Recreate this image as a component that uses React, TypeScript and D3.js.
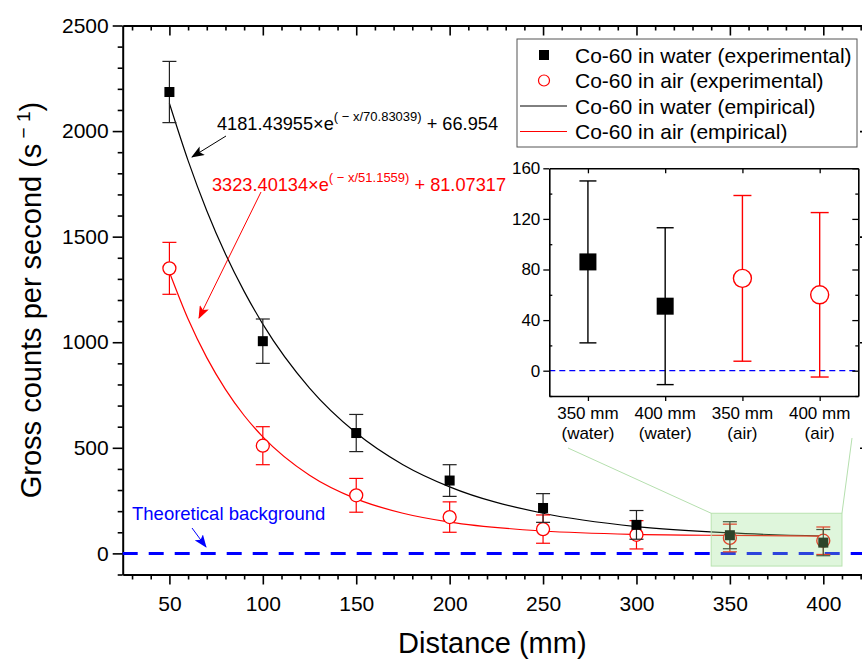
import React, { useEffect, useRef } from "react";
import * as d3 from "d3";

const FONT = "'Liberation Sans', Arial, Helvetica, sans-serif";

// measured points (mm, counts per second)
const distances = [50, 100, 150, 200, 250, 300, 350, 400];
const waterCounts = [2185, 1005, 570, 345, 215, 135, 86, 51];
const waterErr = [145, 105, 88, 75, 68, 68, 64, 62];
const airCounts = [1350, 510, 275, 172, 115, 88, 73, 60];
const airErr = [123, 90, 80, 72, 67, 67, 65.5, 65];

// empirical fit curves
const fitX = [50, 60, 70, 80, 90, 100, 125, 150, 175, 200, 250, 300, 350, 400];
const waterFit = [2131, 1860, 1623, 1418, 1241, 1086, 783, 570, 420, 315, 190, 127, 97, 82];
const airFit = [1332, 1110, 927, 777, 653, 552, 370, 258, 190, 148, 106, 90, 85, 82];

const xTicks = [50, 100, 150, 200, 250, 300, 350, 400];
const yTicks = [0, 500, 1000, 1500, 2000, 2500];
const insetYTicks = [0, 40, 80, 120, 160];
const insetCats = ["350 mm", "400 mm", "350 mm", "400 mm"];
const insetMedia = ["(water)", "(water)", "(air)", "(air)"];

const legendItems = [
  "Co-60 in water (experimental)",
  "Co-60 in air (experimental)",
  "Co-60 in water (empirical)",
  "Co-60 in air (empirical)",
];

export default function App() {
  const ref = useRef<SVGSVGElement>(null);

  useEffect(() => {
    const svg = d3.select(ref.current);
    svg.selectAll("*").remove();

    const left = 122.7, right = 870, top = 25.5, bottom = 574.5;
    const x = d3.scaleLinear().domain([25, 425]).range([left, right]);
    const y = d3.scaleLinear().domain([-100, 2500]).range([bottom, top]);

    const defs = svg.append("defs");
    [["arrowBlack", "#000"], ["arrowRed", "#ff0000"], ["arrowBlue", "#0000ff"]].forEach(([id, c]) => {
      defs.append("marker")
        .attr("id", id)
        .attr("markerUnits", "userSpaceOnUse")
        .attr("markerWidth", 14).attr("markerHeight", 10)
        .attr("refX", 12).attr("refY", 5)
        .attr("orient", "auto")
        .append("path").attr("d", "M0,0 L13,5 L0,10 L3,5 Z").attr("fill", c);
    });

    const styleAxis = (g, sw = 1.6) => {
      g.selectAll(".domain").attr("stroke", "#000").attr("stroke-width", 2);
      g.selectAll(".tick line").attr("stroke", "#000").attr("stroke-width", sw);
      g.selectAll("text").attr("font-family", FONT).attr("fill", "#000");
    };

    // main axes
    const minorX = d3.range(30, 421, 10).filter(d => d % 50 !== 0);
    const minorY = d3.range(-100, 2501, 100).filter(d => d % 500 !== 0);

    const gb = svg.append("g").attr("transform", `translate(0,${bottom})`);
    gb.call(d3.axisBottom(x).tickValues(xTicks).tickSize(10).tickSizeOuter(0).tickPadding(12).tickFormat(d3.format("d")));
    gb.append("g").call(d3.axisBottom(x).tickValues(minorX).tickSize(5).tickFormat(() => "")).select(".domain").remove();
    styleAxis(gb);
    gb.selectAll("text").attr("font-size", 21);

    const gt = svg.append("g").attr("transform", `translate(0,${top})`);
    gt.call(d3.axisBottom(x).tickValues(xTicks).tickSize(10).tickSizeOuter(0).tickFormat(() => ""));
    gt.append("g").call(d3.axisBottom(x).tickValues(minorX).tickSize(5).tickFormat(() => "")).select(".domain").remove();
    styleAxis(gt);

    const gl = svg.append("g").attr("transform", `translate(${left},0)`);
    gl.call(d3.axisLeft(y).tickValues(yTicks).tickSize(10).tickSizeOuter(0).tickPadding(4).tickFormat(d3.format("d")));
    gl.append("g").call(d3.axisLeft(y).tickValues(minorY).tickSize(5).tickFormat(() => "")).select(".domain").remove();
    styleAxis(gl);
    gl.selectAll("text").attr("font-size", 21);

    const gr = svg.append("g").attr("transform", `translate(${right},0)`);
    gr.call(d3.axisLeft(y).tickValues(yTicks).tickSize(10).tickSizeOuter(0).tickFormat(() => ""));
    gr.append("g").call(d3.axisLeft(y).tickValues(minorY).tickSize(5).tickFormat(() => "")).select(".domain").remove();
    styleAxis(gr);

    // axis titles
    svg.append("text")
      .attr("x", (left + right - 8) / 2).attr("y", 653)
      .attr("text-anchor", "middle").attr("font-family", FONT).attr("font-size", 29)
      .text("Distance (mm)");
    const yt = svg.append("text")
      .attr("transform", `translate(41,${(top + bottom) / 2}) rotate(-90)`)
      .attr("text-anchor", "middle").attr("font-family", FONT).attr("font-size", 29);
    yt.append("tspan").text("Gross counts per second (s");
    yt.append("tspan").attr("dy", -11).attr("font-size", 19).text(" \u2212 1");
    yt.append("tspan").attr("dy", 11).text(")");

    // theoretical background
    svg.append("line")
      .attr("x1", left).attr("x2", right).attr("y1", y(0)).attr("y2", y(0))
      .attr("stroke", "#0000ff").attr("stroke-width", 3).attr("stroke-dasharray", "15,11");

    // fitted curves
    const line = d3.line<number>().x((d, i) => x(fitX[i])).curve(d3.curveMonotoneX);
    svg.append("path").attr("d", line.y(d => y(d))(waterFit)).attr("fill", "none").attr("stroke", "#000").attr("stroke-width", 1.2);
    svg.append("path").attr("d", line.y(d => y(d))(airFit)).attr("fill", "none").attr("stroke", "#ff0000").attr("stroke-width", 1.2);

    const errBars = (g, xs, vals, errs, color, cap, sx, sy, sw) => {
      xs.forEach((xv, i) => {
        const cx = sx(xv), lo = sy(vals[i] - errs[i]), hi = sy(vals[i] + errs[i]);
        g.append("line").attr("x1", cx).attr("x2", cx).attr("y1", lo).attr("y2", hi).attr("stroke", color).attr("stroke-width", sw);
        [lo, hi].forEach(yy => g.append("line").attr("x1", cx - cap / 2).attr("x2", cx + cap / 2).attr("y1", yy).attr("y2", yy).attr("stroke", color).attr("stroke-width", sw));
      });
    };

    const pts = svg.append("g");
    errBars(pts, distances, airCounts, airErr, "#ff0000", 14, x, y, 1.2);
    pts.selectAll("circle.air").data(distances).join("circle")
      .attr("cx", d => x(d)).attr("cy", (d, i) => y(airCounts[i])).attr("r", 6.5)
      .attr("fill", "#fff").attr("stroke", "#ff0000").attr("stroke-width", 1.3);
    errBars(pts, distances, waterCounts, waterErr, "#222", 14, x, y, 1.2);
    pts.selectAll("rect.water").data(distances).join("rect")
      .attr("x", d => x(d) - 5).attr("y", (d, i) => y(waterCounts[i]) - 5)
      .attr("width", 10).attr("height", 10).attr("fill", "#000");

    // zoom region highlight
    const zx0 = x(340), zx1 = x(410), zy0 = y(190), zy1 = y(-60);
    svg.append("rect").attr("x", zx0).attr("y", zy0).attr("width", zx1 - zx0).attr("height", zy1 - zy0)
      .attr("fill", "rgba(150,225,140,0.3)").attr("stroke", "#b9e3b0").attr("stroke-width", 1);
    svg.append("line").attr("x1", 568).attr("y1", 448).attr("x2", zx0).attr("y2", zy0).attr("stroke", "#b5dfae").attr("stroke-width", 1);
    svg.append("line").attr("x1", 852).attr("y1", 438).attr("x2", zx1).attr("y2", zy0).attr("stroke", "#b5dfae").attr("stroke-width", 1);

    // annotations
    const annot = (tx, ty, color, base, sup, tail) => {
      const t = svg.append("text").attr("x", tx).attr("y", ty).attr("font-family", FONT).attr("font-size", 18.2).attr("fill", color);
      t.append("tspan").text(base);
      t.append("tspan").attr("dy", -9).attr("font-size", 13).text(sup);
      t.append("tspan").attr("dy", 9).text(tail);
    };
    annot(217, 130, "#000", "4181.43955\u00d7e", "( \u2212 x/70.83039)", " + 66.954");
    annot(212, 191, "#ff0000", "3323.40134\u00d7e", "( \u2212 x/51.1559)", " + 81.07317");
    svg.append("line").attr("x1", 226).attr("y1", 136).attr("x2", 192).attr("y2", 157)
      .attr("stroke", "#000").attr("stroke-width", 1).attr("marker-end", "url(#arrowBlack)");
    svg.append("line").attr("x1", 261).attr("y1", 192).attr("x2", 199).attr("y2", 318)
      .attr("stroke", "#ff0000").attr("stroke-width", 1).attr("marker-end", "url(#arrowRed)");
    svg.append("text").attr("x", 132).attr("y", 520).attr("font-family", FONT).attr("font-size", 18.5)
      .attr("fill", "#0000ff").text("Theoretical background");
    svg.append("line").attr("x1", 192).attr("y1", 528).attr("x2", 206).attr("y2", 547)
      .attr("stroke", "#0000ff").attr("stroke-width", 1).attr("marker-end", "url(#arrowBlue)");

    // legend
    const lg = svg.append("g");
    lg.append("rect").attr("x", 517).attr("y", 39).attr("width", 340).attr("height", 108)
      .attr("fill", "#fff").attr("stroke", "#555").attr("stroke-width", 1);
    legendItems.forEach((label, i) => {
      const cy = 55 + i * 25.5;
      if (i === 0) lg.append("rect").attr("x", 539).attr("y", cy - 5).attr("width", 10).attr("height", 10).attr("fill", "#000");
      if (i === 1) lg.append("circle").attr("cx", 544).attr("cy", cy).attr("r", 5.5).attr("fill", "#fff").attr("stroke", "#ff0000").attr("stroke-width", 1.2);
      if (i >= 2) lg.append("line").attr("x1", 520).attr("x2", 567).attr("y1", cy).attr("y2", cy)
        .attr("stroke", i === 2 ? "#000" : "#ff0000").attr("stroke-width", 1);
      lg.append("text").attr("x", 575).attr("y", cy + 7.5).attr("font-family", FONT).attr("font-size", 21).text(label);
    });

    // inset
    const iL = 549.3, iR = 858.3, iT = 168.3, iB = 396;
    const ix = d3.scaleLinear().domain([0.5, 4.5]).range([iL, iR]);
    const iy = d3.scaleLinear().domain([-20, 160]).range([iB, iT]);
    const ins = svg.append("g");
    ins.append("rect").attr("x", iL).attr("y", iT).attr("width", iR - iL).attr("height", iB - iT).attr("fill", "#fff");

    const insetPos = [1, 2, 3, 4];
    const insetVals = [waterCounts[6], waterCounts[7], airCounts[6], airCounts[7]];
    const insetErrs = [waterErr[6], waterErr[7], airErr[6], airErr[7]];

    ins.append("line").attr("x1", iL).attr("x2", iR).attr("y1", iy(0)).attr("y2", iy(0))
      .attr("stroke", "#0000ff").attr("stroke-width", 1.2).attr("stroke-dasharray", "6,4");

    errBars(ins, insetPos.slice(0, 2), insetVals.slice(0, 2), insetErrs.slice(0, 2), "#000", 17, ix, iy, 1.4);
    errBars(ins, insetPos.slice(2), insetVals.slice(2), insetErrs.slice(2), "#ff0000", 18, ix, iy, 1.4);
    insetPos.slice(0, 2).forEach((p, i) => {
      ins.append("rect").attr("x", ix(p) - 8.5).attr("y", iy(insetVals[i]) - 8.5).attr("width", 17).attr("height", 17).attr("fill", "#000");
    });
    insetPos.slice(2).forEach((p, i) => {
      ins.append("circle").attr("cx", ix(p)).attr("cy", iy(insetVals[i + 2])).attr("r", 9)
        .attr("fill", "#fff").attr("stroke", "#ff0000").attr("stroke-width", 1.4);
    });

    const minorIY = [-20, 20, 60, 100, 140];
    const il = ins.append("g").attr("transform", `translate(${iL},0)`);
    il.call(d3.axisLeft(iy).tickValues(insetYTicks).tickSize(6).tickSizeOuter(0).tickPadding(3));
    il.append("g").call(d3.axisLeft(iy).tickValues(minorIY).tickSize(-3).tickFormat(() => "")).select(".domain").remove();
    styleAxis(il, 1.3);
    il.selectAll("text").attr("font-size", 17);
    il.selectAll(".domain").attr("stroke-width", 1.6);

    const ir = ins.append("g").attr("transform", `translate(${iR},0)`);
    ir.call(d3.axisLeft(iy).tickValues(insetYTicks).tickSize(6).tickSizeOuter(0).tickFormat(() => ""));
    ir.append("g").call(d3.axisLeft(iy).tickValues(minorIY).tickSize(3).tickFormat(() => "")).select(".domain").remove();
    styleAxis(ir, 1.3);
    ir.selectAll(".domain").attr("stroke-width", 1.6);

    const ib = ins.append("g").attr("transform", `translate(0,${iB})`);
    ib.call(d3.axisBottom(ix).tickValues(insetPos).tickSize(5).tickSizeOuter(0).tickFormat(() => ""));
    styleAxis(ib, 1.3);
    ib.selectAll(".domain").attr("stroke-width", 1.6);

    const it = ins.append("g").attr("transform", `translate(0,${iT})`);
    it.call(d3.axisBottom(ix).tickValues(insetPos).tickSize(5).tickSizeOuter(0).tickFormat(() => ""));
    styleAxis(it, 1.3);
    it.selectAll(".domain").attr("stroke-width", 1.6);

    insetPos.forEach((p, i) => {
      const t = ins.append("text").attr("x", ix(p)).attr("y", 419).attr("text-anchor", "middle")
        .attr("font-family", FONT).attr("font-size", 17);
      t.append("tspan").attr("x", ix(p)).text(insetCats[i]);
      t.append("tspan").attr("x", ix(p)).attr("dy", 19.5).text(insetMedia[i]);
    });
  }, []);

  return (
    <svg
      ref={ref}
      width={862}
      height={662}
      style={{ position: "absolute", left: 0, top: 0, background: "#fff" }}
    />
  );
}
